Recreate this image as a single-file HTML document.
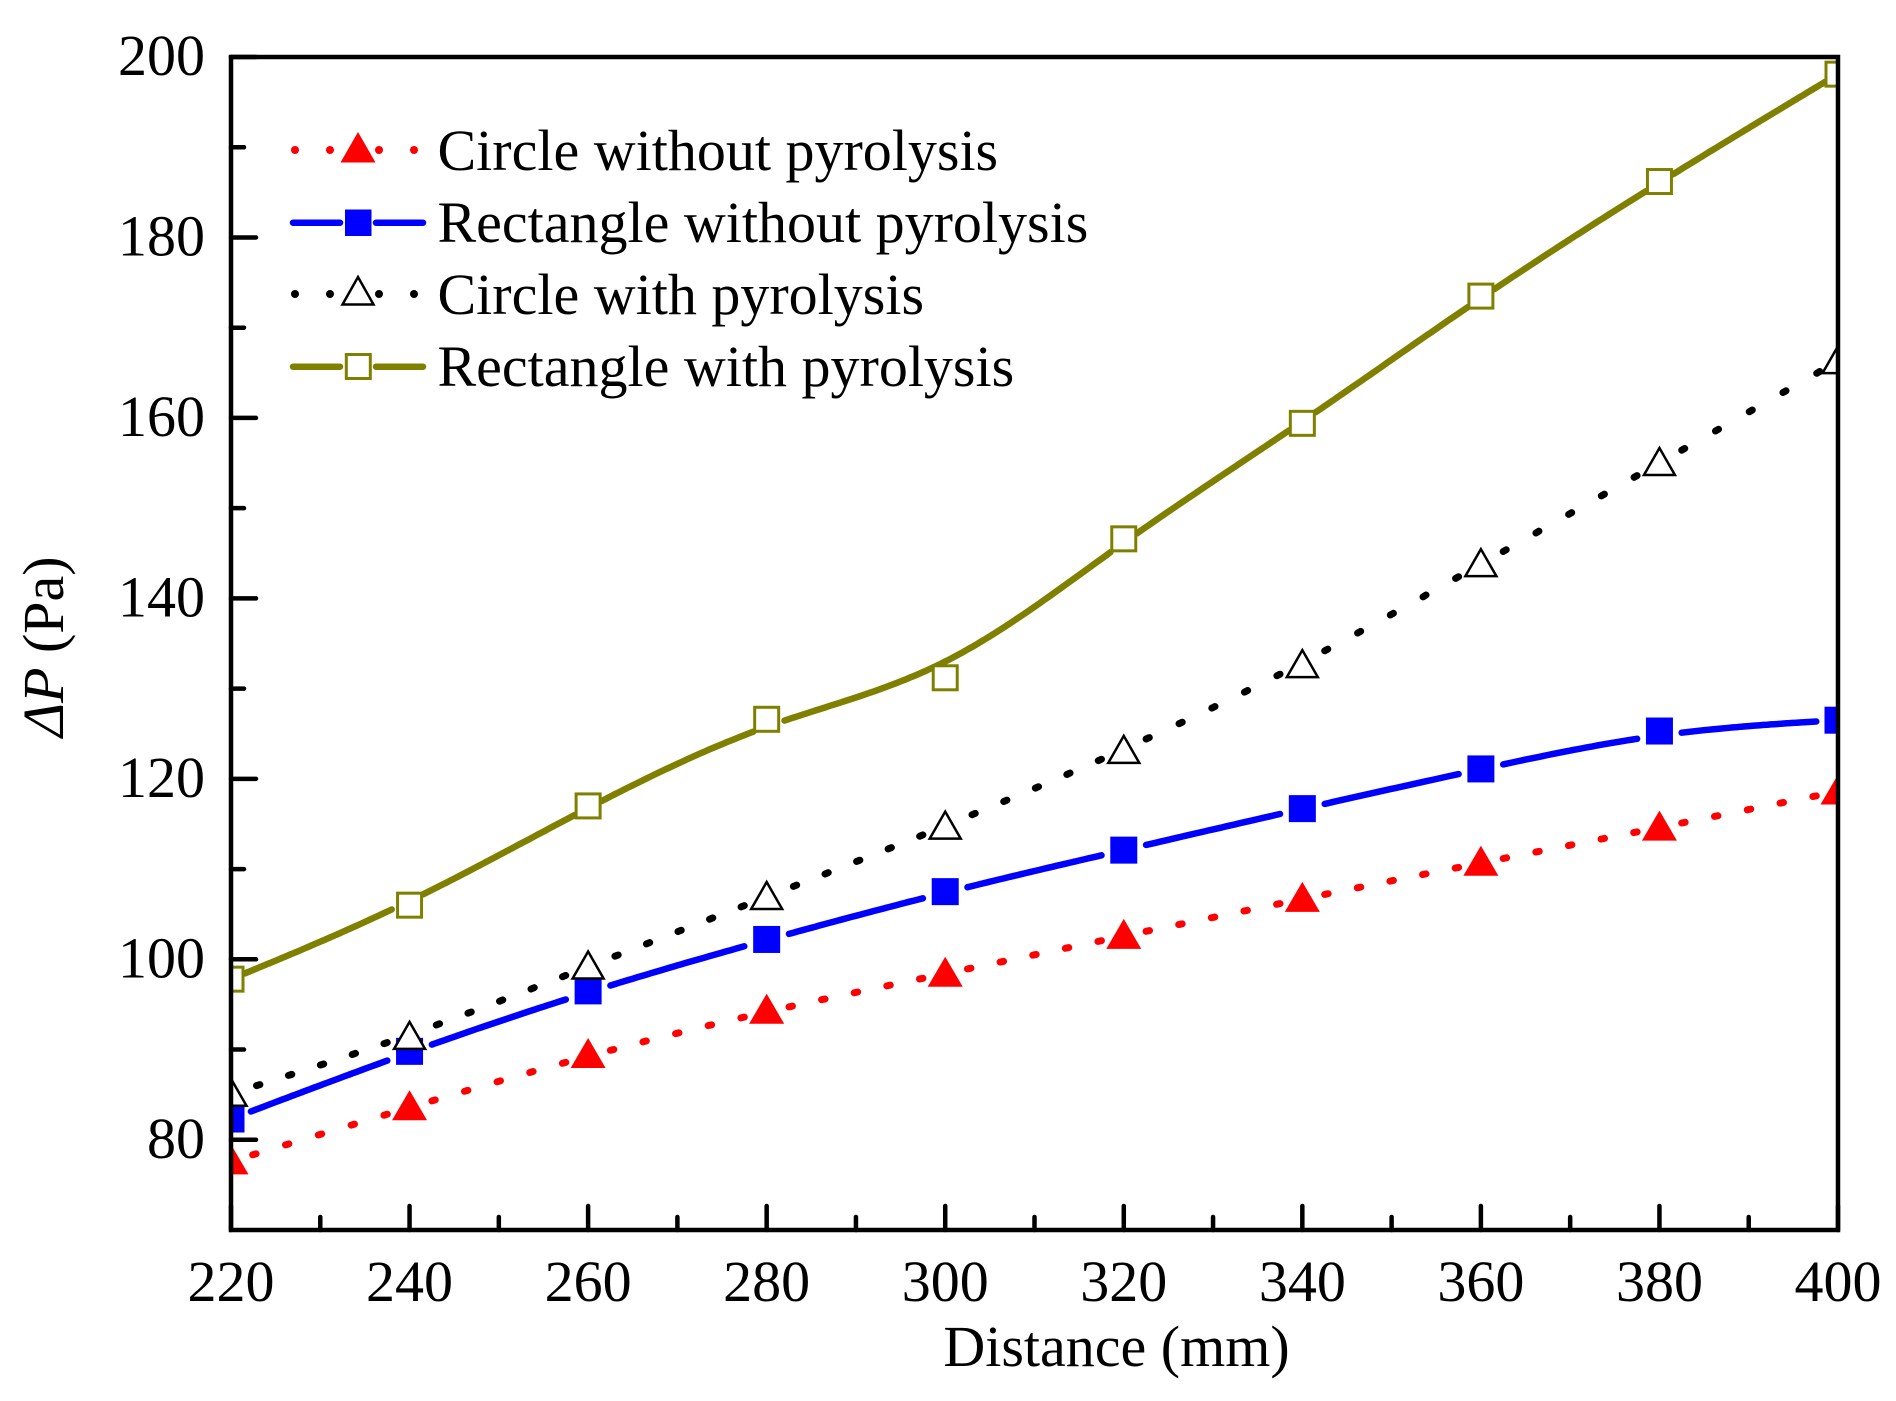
<!DOCTYPE html>
<html lang="en">
<head>
<meta charset="utf-8">
<title>Pressure drop vs distance</title>
<style>
  html, body { margin: 0; padding: 0; background: #fff; }
  svg { display: block; }
  text { font-family: "Liberation Serif", "Times New Roman", serif; font-size: 58px; fill: #000; }
</style>
</head>
<body>
<svg id="chart" xmlns="http://www.w3.org/2000/svg" width="1896" height="1401" viewBox="0 0 1896 1401">
  <rect x="0" y="0" width="1896" height="1401" fill="#fff"/>
  <defs>
    <clipPath id="plot-clip"><rect x="231" y="57" width="1607" height="1173"/></clipPath>
  </defs>
  <g id="series-layer" clip-path="url(#plot-clip)"></g>
  <g id="axis-layer"></g>

  <g>
    <g>
      <circle cx="295" cy="150" r="4" fill="#f00"/>
      <circle cx="330" cy="150" r="4" fill="#f00"/>
      <circle cx="379" cy="150" r="4" fill="#f00"/>
      <circle cx="414" cy="150" r="4" fill="#f00"/>
      <polygon points="358,132 375.5,162.5 340.5,162.5" fill="#f00"/>
      <text x="437.5" y="170">Circle without pyrolysis</text>
    </g>
    <g>
      <line x1="293" y1="222.7" x2="340" y2="222.7" stroke="#00f" stroke-width="6.5" stroke-linecap="round"/>
      <line x1="376" y1="222.7" x2="423" y2="222.7" stroke="#00f" stroke-width="6.5" stroke-linecap="round"/>
      <rect x="345" y="209.5" width="26.5" height="26.5" fill="#00f"/>
      <text x="437.5" y="242">Rectangle without pyrolysis</text>
    </g>
    <g>
      <circle cx="295" cy="294" r="4" fill="#000"/>
      <circle cx="330" cy="294" r="4" fill="#000"/>
      <circle cx="379" cy="294" r="4" fill="#000"/>
      <circle cx="414" cy="294" r="4" fill="#000"/>
      <polygon points="358,277 373.5,304.5 342.5,304.5" fill="#fff" stroke="#000" stroke-width="2.5"/>
      <text x="437.5" y="314">Circle with pyrolysis</text>
    </g>
    <g>
      <line x1="293" y1="366.7" x2="340" y2="366.7" stroke="#808000" stroke-width="6.5" stroke-linecap="round"/>
      <line x1="376" y1="366.7" x2="423" y2="366.7" stroke="#808000" stroke-width="6.5" stroke-linecap="round"/>
      <rect x="346.3" y="354.5" width="24" height="24" fill="#fff" stroke="#808000" stroke-width="3"/>
      <text x="437.5" y="386">Rectangle with pyrolysis</text>
    </g>
  </g>

  <text x="1116.5" y="1366" text-anchor="middle">Distance (mm)</text>
  <text transform="translate(63 737) rotate(-90)"><tspan font-style="italic">&#916;P</tspan> (Pa)</text>
</svg>

<script>
const distances = [220, 240, 260, 280, 300, 320, 340, 360, 380, 400];
const circleWithout = [77.6, 83.6, 89.4, 94.3, 98.4, 102.6, 106.7, 110.7, 114.6, 118.6];
const rectangleWithout = [82.3, 89.8, 96.5, 102.2, 107.5, 112.1, 116.7, 121.1, 125.3, 126.5];
const circleWith = [85.1, 91.4, 99.2, 106.9, 114.7, 123.1, 132.6, 143.8, 155.0, 166.3];
const rectangleWith = [97.8, 106.0, 117.0, 126.6, 131.2, 146.6, 159.4, 173.5, 186.2, 198.1];
const xTickValues = [220, 240, 260, 280, 300, 320, 340, 360, 380, 400];
const xMinorValues = [230, 250, 270, 290, 310, 330, 350, 370, 390];
const yTickValues = [80, 100, 120, 140, 160, 180, 200];
const yMinorValues = [90, 110, 130, 150, 170, 190];

const NS = 'http://www.w3.org/2000/svg';
const LEFT = 231, RIGHT = 1838, TOP = 57, BOTTOM = 1230;
const X_MIN = 220, X_MAX = 400, Y_MIN = 70, Y_MAX = 200;
function xScale(v) { return LEFT + (v - X_MIN) / (X_MAX - X_MIN) * (RIGHT - LEFT); }
function yScale(v) { return BOTTOM - (v - Y_MIN) / (Y_MAX - Y_MIN) * (BOTTOM - TOP); }

function make(tag, attrs, parent) {
  const el = document.createElementNS(NS, tag);
  for (const k in attrs) el.setAttribute(k, attrs[k]);
  parent.appendChild(el);
  return el;
}

/* Uniform cubic B-spline with clamped ends, matching the smoothed curve of the plot */
function bspline(pts) {
  const p = [pts[0], pts[0]].concat(pts, [pts[pts.length - 1], pts[pts.length - 1]]);
  const out = [];
  for (let i = 0; i + 3 < p.length; i++) {
    for (let s = 0; s < 40; s++) {
      const t = s / 40, u = 1 - t;
      const b0 = u * u * u / 6;
      const b1 = (3 * t * t * t - 6 * t * t + 4) / 6;
      const b2 = (-3 * t * t * t + 3 * t * t + 3 * t + 1) / 6;
      const b3 = t * t * t / 6;
      out.push([
        b0 * p[i][0] + b1 * p[i + 1][0] + b2 * p[i + 2][0] + b3 * p[i + 3][0],
        b0 * p[i][1] + b1 * p[i + 1][1] + b2 * p[i + 2][1] + b3 * p[i + 3][1]
      ]);
    }
  }
  out.push(pts[pts.length - 1]);
  return out;
}
function dist(a, b) { return Math.hypot(a[0] - b[0], a[1] - b[1]); }
function lengthOf(pl) {
  let l = 0;
  for (let i = 1; i < pl.length; i++) l += dist(pl[i - 1], pl[i]);
  return l;
}

const seriesLayer = document.getElementById('series-layer');

function drawSeries(name, values, color, dotted, gapStart, gapEnd, marker) {
  const g = make('g', {}, seriesLayer);
  
  
  const pts = values.map((v, i) => [xScale(distances[i]), yScale(v)]);
  const curve = bspline(pts);
  for (let i = 0; i + 1 < pts.length; i++) {
    const a = pts[i], b = pts[i + 1];
    const seg = curve.filter(q => q[0] >= a[0] && q[0] <= b[0] && dist(q, a) > gapStart && dist(q, b) > gapEnd);
    if (seg.length < 2) continue;
    const line = make('polyline', {
      points: seg.map(q => q[0].toFixed(1) + ',' + q[1].toFixed(1)).join(' '),
      fill: 'none', stroke: color, 'stroke-width': dotted ? 7 : 6.5, 'stroke-linecap': 'round', 'stroke-linejoin': 'round'
    }, g);
    
    
    if (dotted) {
      const L = lengthOf(seg);
      line.setAttribute('stroke-dasharray', '3.5 ' + ((L - 3.5) / 4 - 3.5).toFixed(2));
    }
  }
  pts.forEach(q => {
    const m = marker(q[0], q[1], g);
    
    
  });
}

function solidTriangle(color) {
  return (x, y, g) => make('polygon', {
    points: (x) + ',' + (y - 17) + ' ' + (x + 17.5) + ',' + (y + 13) + ' ' + (x - 17.5) + ',' + (y + 13),
    fill: color
  }, g);
}
function openTriangle(color) {
  return (x, y, g) => make('polygon', {
    points: (x) + ',' + (y - 15) + ' ' + (x + 15.5) + ',' + (y + 12) + ' ' + (x - 15.5) + ',' + (y + 12),
    fill: '#fff', stroke: color, 'stroke-width': 2.5
  }, g);
}
function solidSquare(color) {
  return (x, y, g) => make('rect', { x: x - 13.5, y: y - 13.5, width: 27, height: 27, fill: color }, g);
}
function openSquare(color) {
  return (x, y, g) => make('rect', { x: x - 12, y: y - 12, width: 24, height: 24, fill: '#fff', stroke: color, 'stroke-width': 3 }, g);
}

drawSeries('circle-without-pyrolysis', circleWithout, '#f00', true, 22, 22, solidTriangle('#f00'));
drawSeries('rectangle-without-pyrolysis', rectangleWithout, '#00f', false, 20, 20, solidSquare('#00f'));
drawSeries('circle-with-pyrolysis', circleWith, '#000', true, 25, 21, openTriangle('#000'));
drawSeries('rectangle-with-pyrolysis', rectangleWith, '#808000', false, 14, 14, openSquare('#808000'));

const axisLayer = document.getElementById('axis-layer');
const frame = make('rect', { x: LEFT, y: TOP, width: RIGHT - LEFT, height: BOTTOM - TOP, fill: 'none', stroke: '#000', 'stroke-width': 4.5 }, axisLayer);



xTickValues.forEach(v => {
  const x = xScale(v);
  const tick = make('line', { x1: x, y1: BOTTOM, x2: x, y2: BOTTOM - 24, stroke: '#000', 'stroke-width': 4.5, 'stroke-linecap': 'round' }, axisLayer);
  
  
  const label = make('text', { x: x, y: 1301, 'text-anchor': 'middle' }, axisLayer);
  
  
  label.textContent = v;
});
xMinorValues.forEach(v => {
  const x = xScale(v);
  const tick = make('line', { x1: x, y1: BOTTOM, x2: x, y2: BOTTOM - 13, stroke: '#000', 'stroke-width': 4.5, 'stroke-linecap': 'round' }, axisLayer);
  
  
});
yTickValues.forEach(v => {
  const y = yScale(v);
  const tick = make('line', { x1: LEFT, y1: y, x2: LEFT + 25, y2: y, stroke: '#000', 'stroke-width': 4.5, 'stroke-linecap': 'round' }, axisLayer);
  
  
  const label = make('text', { x: 205, y: y + 18, 'text-anchor': 'end' }, axisLayer);
  
  
  label.textContent = v;
});
yMinorValues.forEach(v => {
  const y = yScale(v);
  const tick = make('line', { x1: LEFT, y1: y, x2: LEFT + 13, y2: y, stroke: '#000', 'stroke-width': 4.5, 'stroke-linecap': 'round' }, axisLayer);
  
  
});
</script>
</body>
</html>
